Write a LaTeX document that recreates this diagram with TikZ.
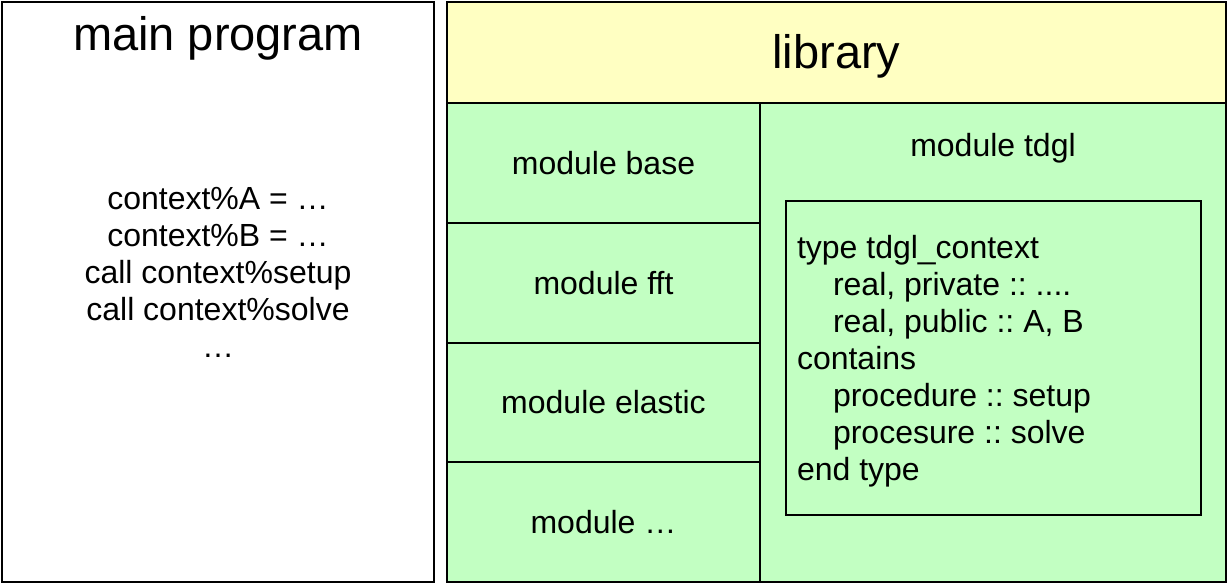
\documentclass[tikz,border=0pt]{standalone}
\usepackage{fontspec}
\setmainfont{Liberation Sans}
\frenchspacing
\definecolor{libyellow}{HTML}{FFFFC2}
\definecolor{modgreen}{HTML}{C2FFC2}

\begin{document}
\begin{tikzpicture}[x=1pt, y=-1pt, line width=2pt,
    box/.style={draw, fill=modgreen, inner sep=0pt, font=\fontsize{32}{37}\selectfont},
    code/.style={inner sep=0pt, align=left, font=\fontsize{32}{37}\selectfont},
    head/.style={inner sep=0pt, font=\fontsize{47}{56}\selectfont}]
    \useasboundingbox (0,0) rectangle (1228,584);

    % main program
    \node[box, fill=white, minimum width=432pt, minimum height=580pt] (main) at (218,292) {};
    \node[head, anchor=base] (maintitle) at (218,50) {main program};
    \node[code, align=center, anchor=north] (calls) at (218,186)
        {context\%A = …\\context\%B = …\\call context\%setup\\call context\%solve\\…};

    % library
    \node[box, head, draw, fill=libyellow, text depth=2pt, minimum width=779pt, minimum height=101pt] (lib) at (836.5,52.5) {library};
    \node[box, minimum width=313pt, minimum height=119.75pt] (base) at (603.5,162.875) {module base};
    \node[box, minimum width=313pt, minimum height=119.75pt] (fft) at (603.5,282.625) {module fft};
    \node[box, minimum width=313pt, minimum height=119.75pt] (elastic) at (603.5,402.375) {module elastic};
    \node[box, minimum width=313pt, minimum height=119.75pt] (more) at (603.5,522.125) {module …};
    \node[box, minimum width=466pt, minimum height=479pt] (tdgl) at (993,342.5) {};
    \node[code, anchor=base] (tdgltitle) at (993,156) {module tdgl};

    % derived type
    \node[box, minimum width=415pt, minimum height=314pt] (ctx) at (993.5,358) {};
    \node[code, anchor=north west] (type) at (796,234)
        {type tdgl\_context\\
         \hspace*{36pt}real, private :: ....\\
         \hspace*{36pt}real, public :: A, B\\
         contains\\
         \hspace*{36pt}procedure :: setup\\
         \hspace*{36pt}procesure :: solve\\
         end type};
\end{tikzpicture}
\end{document}
